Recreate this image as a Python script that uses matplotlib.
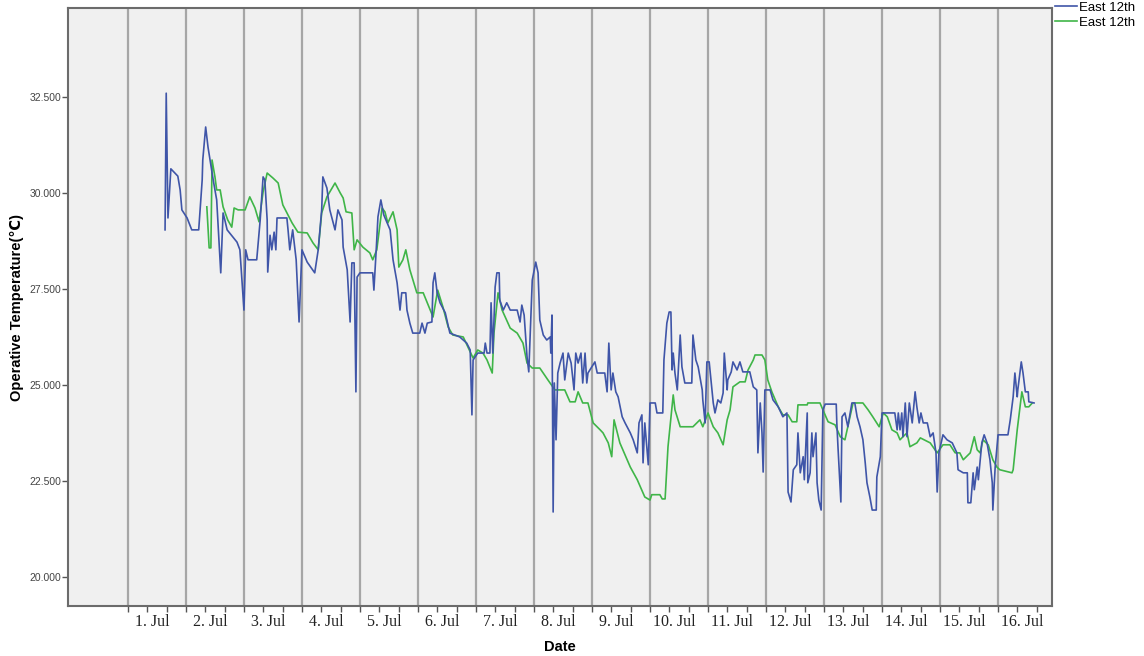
import matplotlib
matplotlib.use("Agg")
import matplotlib.pyplot as plt
import numpy as np

# time in days since 1 Jul 00:00, operative temperature in degC
blue_day = [0.64, 0.66, 0.69, 0.74, 0.86, 0.90, 0.93, 1.02, 1.10, 1.22, 1.28, 1.29, 1.34, 1.38, 1.41,
            1.47, 1.53, 1.60, 1.64, 1.67, 1.71, 1.88, 1.93, 2.00, 2.03, 2.07, 2.22, 2.28, 2.33, 2.36,
            2.40, 2.41, 2.45, 2.48, 2.52, 2.55, 2.57, 2.74, 2.76, 2.79, 2.84, 2.90, 2.95, 3.00, 3.09,
            3.22, 3.28, 3.34, 3.36, 3.43, 3.48, 3.57, 3.62, 3.69, 3.71, 3.78, 3.83, 3.86, 3.90, 3.93,
            3.95, 4.00, 4.22, 4.24, 4.28, 4.31, 4.36, 4.41, 4.47, 4.52, 4.57, 4.64, 4.69, 4.72, 4.79,
            4.81, 4.86, 4.91, 5.03, 5.07, 5.12, 5.16, 5.24, 5.26, 5.29, 5.33, 5.38, 5.47, 5.55, 5.72,
            5.84, 5.90, 5.93, 5.95, 6.03, 6.14, 6.16, 6.19, 6.24, 6.26, 6.29, 6.33, 6.36, 6.40, 6.41,
            6.47, 6.53, 6.59, 6.71, 6.76, 6.79, 6.83, 6.88, 6.91, 6.97, 7.03, 7.07, 7.10, 7.16, 7.22,
            7.28, 7.29, 7.31, 7.33, 7.35, 7.38, 7.41, 7.45, 7.50, 7.53, 7.59, 7.64, 7.69, 7.72, 7.76,
            7.81, 7.84, 7.88, 7.91, 7.93, 8.05, 8.09, 8.22, 8.26, 8.29, 8.33, 8.36, 8.41, 8.45, 8.52,
            8.57, 8.66, 8.71, 8.78, 8.81, 8.86, 8.88, 8.91, 8.97, 9.00, 9.09, 9.12, 9.22, 9.24, 9.29,
            9.33, 9.36, 9.38, 9.40, 9.43, 9.47, 9.52, 9.55, 9.60, 9.72, 9.74, 9.79, 9.83, 9.90, 9.91,
            9.95, 9.98, 10.02, 10.05, 10.09, 10.12, 10.17, 10.22, 10.26, 10.28, 10.33, 10.34, 10.40, 10.43, 10.50,
            10.55, 10.60, 10.72, 10.78, 10.84, 10.86, 10.90, 10.93, 10.95, 10.98, 11.07, 11.12, 11.21, 11.29, 11.36,
            11.38, 11.43, 11.47, 11.53, 11.55, 11.59, 11.64, 11.66, 11.71, 11.72, 11.76, 11.79, 11.81, 11.86, 11.88,
            11.91, 11.95, 11.98, 12.02, 12.21, 12.22, 12.24, 12.29, 12.31, 12.36, 12.41, 12.48, 12.53, 12.57, 12.62,
            12.67, 12.71, 12.74, 12.79, 12.83, 12.90, 12.91, 12.97, 13.00, 13.22, 13.26, 13.28, 13.31, 13.34, 13.36,
            13.40, 13.43, 13.47, 13.52, 13.57, 13.60, 13.64, 13.67, 13.71, 13.78, 13.83, 13.88, 13.93, 13.95, 13.98,
            14.03, 14.05, 14.12, 14.21, 14.29, 14.31, 14.40, 14.47, 14.48, 14.53, 14.57, 14.59, 14.64, 14.66, 14.72,
            14.76, 14.81, 14.86, 14.90, 14.91, 14.95, 15.00, 15.17, 15.21, 15.26, 15.29, 15.33, 15.34, 15.40, 15.43,
            15.47, 15.52, 15.53, 15.62]
blue_temp = [29.04, 32.60, 29.35, 30.63, 30.44, 30.08, 29.56, 29.35, 29.04, 29.04, 30.34, 30.86, 31.72, 31.20, 30.91,
             30.34, 29.82, 27.92, 29.48, 29.30, 29.04, 28.72, 28.52, 26.95, 28.52, 28.26, 28.26, 29.30, 30.42, 30.34,
             29.30, 27.94, 28.90, 28.52, 28.98, 28.52, 29.35, 29.35, 29.04, 28.52, 29.04, 28.26, 26.64, 28.52, 28.20,
             27.92, 28.52, 29.56, 30.42, 30.13, 29.56, 29.04, 29.56, 29.30, 28.59, 28.00, 26.64, 28.18, 28.18, 24.82,
             27.81, 27.92, 27.92, 27.47, 28.52, 29.38, 29.82, 29.43, 29.22, 29.04, 28.26, 27.66, 26.95, 27.40, 27.40,
             26.95, 26.61, 26.35, 26.35, 26.61, 26.35, 26.61, 26.64, 27.66, 27.92, 27.40, 27.14, 26.88, 26.35, 26.25,
             26.09, 25.91, 24.22, 25.65, 25.83, 25.83, 26.09, 25.83, 25.83, 27.14, 25.83, 27.55, 27.92, 27.92, 27.21,
             26.95, 27.14, 26.95, 26.95, 26.64, 27.08, 26.82, 25.73, 25.34, 27.73, 28.20, 27.92, 26.69, 26.30, 26.17,
             26.25, 25.83, 26.82, 21.69, 25.05, 23.57, 25.31, 25.57, 25.83, 25.13, 25.83, 25.57, 24.87, 25.83, 25.57,
             25.83, 25.05, 25.83, 25.05, 25.31, 25.60, 25.31, 25.31, 24.82, 26.09, 24.87, 25.31, 24.82, 24.69, 24.17,
             24.01, 23.75, 23.57, 23.23, 24.01, 24.22, 22.97, 24.01, 22.92, 24.53, 24.53, 24.27, 24.27, 25.65, 26.61,
             26.90, 26.90, 25.39, 25.83, 25.31, 24.87, 26.30, 25.47, 25.05, 25.05, 26.30, 25.65, 25.47, 24.87, 24.61,
             24.01, 25.60, 25.60, 25.13, 24.53, 24.27, 24.61, 24.53, 24.79, 25.83, 24.87, 25.13, 25.34, 25.60, 25.39,
             25.60, 25.34, 25.34, 24.95, 24.87, 23.23, 24.53, 23.75, 22.73, 24.87, 24.87, 24.61, 24.43, 24.17, 24.27,
             22.21, 21.95, 22.79, 22.92, 23.75, 22.71, 23.13, 22.53, 24.27, 22.45, 22.71, 23.75, 23.13, 23.75, 22.45,
             22.00, 21.74, 24.35, 24.50, 24.50, 24.01, 23.39, 21.95, 24.17, 24.27, 23.91, 24.53, 24.53, 24.17, 23.91,
             23.57, 22.97, 22.45, 22.08, 21.74, 21.74, 22.60, 23.13, 24.27, 24.27, 23.83, 24.27, 23.83, 24.27, 23.65,
             24.53, 23.65, 24.53, 24.01, 24.82, 24.43, 24.01, 24.27, 24.01, 24.01, 23.65, 23.75, 23.23, 22.21, 23.23,
             23.57, 23.70, 23.57, 23.49, 23.23, 22.79, 22.71, 22.71, 21.93, 21.93, 22.71, 22.27, 22.86, 22.53, 23.49,
             23.70, 23.49, 23.05, 22.45, 21.74, 22.86, 23.70, 23.70, 24.09, 24.69, 25.31, 24.69, 24.87, 25.60, 25.31,
             24.82, 24.82, 24.56, 24.53]

green_day = [1.36, 1.40, 1.43, 1.45, 1.50, 1.53, 1.59, 1.64, 1.72, 1.79, 1.83, 1.90, 2.02, 2.10, 2.19,
             2.26, 2.33, 2.40, 2.50, 2.59, 2.67, 2.83, 2.93, 3.09, 3.19, 3.28, 3.34, 3.43, 3.57, 3.66,
             3.71, 3.76, 3.86, 3.90, 3.95, 4.05, 4.17, 4.22, 4.29, 4.38, 4.43, 4.48, 4.57, 4.64, 4.67,
             4.74, 4.79, 4.86, 4.98, 5.09, 5.16, 5.26, 5.34, 5.43, 5.52, 5.60, 5.78, 5.86, 5.95, 6.03,
             6.12, 6.19, 6.28, 6.31, 6.38, 6.45, 6.59, 6.71, 6.81, 6.88, 6.97, 7.10, 7.24, 7.36, 7.53,
             7.62, 7.71, 7.76, 7.84, 7.93, 8.02, 8.14, 8.19, 8.28, 8.34, 8.38, 8.48, 8.66, 8.78, 8.91,
             9.00, 9.03, 9.17, 9.21, 9.26, 9.31, 9.40, 9.43, 9.52, 9.74, 9.86, 9.91, 10.00, 10.09, 10.17,
             10.26, 10.33, 10.38, 10.43, 10.55, 10.64, 10.69, 10.78, 10.81, 10.93, 10.98, 11.03, 11.10, 11.16, 11.21,
             11.29, 11.38, 11.45, 11.53, 11.55, 11.71, 11.72, 11.93, 11.98, 12.07, 12.19, 12.28, 12.36, 12.41, 12.50,
             12.67, 12.76, 12.84, 12.95, 13.02, 13.09, 13.17, 13.26, 13.31, 13.36, 13.43, 13.48, 13.60, 13.66, 13.83,
             13.95, 14.05, 14.17, 14.26, 14.34, 14.40, 14.52, 14.59, 14.64, 14.69, 14.74, 14.83, 14.91, 14.98, 15.03,
             15.24, 15.26, 15.33, 15.41, 15.47, 15.53, 15.59]
green_temp = [29.64, 28.57, 28.57, 30.86, 30.42, 30.08, 30.08, 29.64, 29.30, 29.11, 29.61, 29.56, 29.56, 29.90, 29.61,
              29.25, 30.03, 30.52, 30.39, 30.26, 29.69, 29.22, 28.98, 28.96, 28.70, 28.52, 29.48, 29.90, 30.26, 30.00,
              29.87, 29.51, 29.48, 28.52, 28.78, 28.59, 28.44, 28.26, 28.52, 29.61, 29.51, 29.22, 29.51, 29.04, 28.07,
              28.26, 28.52, 28.00, 27.40, 27.40, 27.14, 26.77, 27.47, 27.03, 26.51, 26.30, 26.25, 25.99, 25.70, 25.91,
              25.83, 25.65, 25.31, 26.35, 27.40, 26.95, 26.48, 26.35, 26.09, 25.57, 25.44, 25.44, 25.13, 24.87, 24.87,
              24.56, 24.56, 24.82, 24.53, 24.53, 24.01, 23.83, 23.75, 23.49, 23.13, 24.09, 23.49, 22.86, 22.53, 22.08,
              22.00, 22.14, 22.14, 22.03, 22.03, 23.39, 24.74, 24.35, 23.91, 23.91, 24.09, 23.91, 24.27, 23.91, 23.75,
              23.44, 24.09, 24.35, 24.95, 25.08, 25.08, 25.39, 25.65, 25.78, 25.78, 25.65, 25.13, 24.82, 24.61, 24.43,
              24.22, 24.22, 24.04, 24.04, 24.48, 24.48, 24.53, 24.53, 24.35, 24.04, 23.96, 23.65, 23.57, 23.91, 24.53,
              24.53, 24.35, 24.17, 23.91, 24.27, 24.17, 23.83, 23.75, 23.57, 23.65, 23.75, 23.39, 23.49, 23.62, 23.49,
              23.23, 23.44, 23.44, 23.23, 23.23, 23.05, 23.23, 23.65, 23.31, 23.23, 23.57, 23.44, 23.05, 22.86, 22.79,
              22.71, 22.79, 23.83, 24.82, 24.43, 24.43, 24.53]

day_labels = ["1. Jul", "2. Jul", "3. Jul", "4. Jul", "5. Jul", "6. Jul", "7. Jul", "8. Jul",
              "9. Jul", "10. Jul", "11. Jul", "12. Jul", "13. Jul", "14. Jul", "15. Jul", "16. Jul"]
y_ticks = [20.0, 22.5, 25.0, 27.5, 30.0, 32.5]

plt.rcParams['font.family'] = ['Liberation Sans', 'DejaVu Sans']

fig = plt.figure(figsize=(11.44, 6.56), dpi=100)
ax = fig.add_axes([0.0594, 0.0762, 0.8602, 0.9116])
ax.set_facecolor('#f0f0f0')

days = np.arange(len(day_labels))
for d in days:
    ax.axvline(d, color='#a6a6a6', lw=1.6, zorder=1)

ax.plot(blue_day, blue_temp, color='#3f55a8', lw=1.2, label='East 12th', zorder=3)
ax.plot(green_day, green_temp, color='#3fb548', lw=1.2, label='East 12th', zorder=2)

ax.set_xlim(-1.034, 15.93)
ax.set_ylim(19.24, 34.82)

ax.set_yticks(y_ticks)
ax.set_yticklabels(["%.3f" % v for v in y_ticks], fontsize=7.5, color='#444444')
ax.tick_params(axis='y', length=4, width=1, color='#555555', pad=1)

ax.set_xticks(days + 0.42)
ax.set_xticklabels(day_labels, family='Liberation Serif', fontsize=11.5, color='#222222')
ax.set_xticks(np.arange(0, 16, 1 / 3.0), minor=True)
ax.tick_params(axis='x', which='major', length=0, pad=6)
ax.tick_params(axis='x', which='minor', length=4, width=1, color='#555555')

for s in ax.spines.values():
    s.set_color('#6b6b6b')
    s.set_linewidth(1.5)

ax.set_xlabel('Date', fontsize=10.5, fontweight='bold', labelpad=7)
ax.set_ylabel('Operative Temperature(℃)', fontsize=10.5, fontweight='bold', labelpad=4)

ax.legend(loc='upper left', bbox_to_anchor=(1.0, 1.015), frameon=False, fontsize=9.5,
          handlelength=1.7, handletextpad=0.15, labelspacing=0.2, borderaxespad=0.1,
          borderpad=0.1)

fig.savefig('out.png', dpi=100)
